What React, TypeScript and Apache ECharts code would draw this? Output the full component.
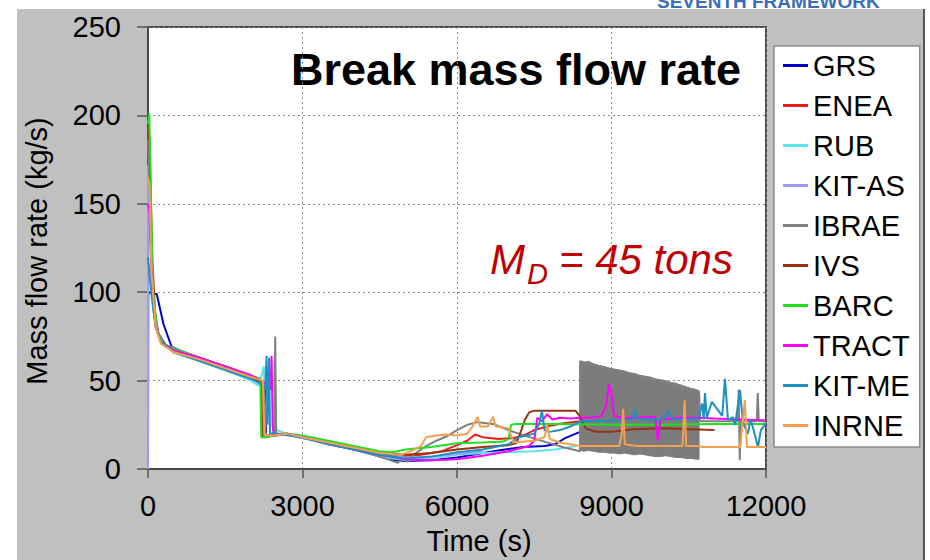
import React, { useEffect, useRef } from 'react';
import * as echarts from 'echarts';

const FONT = 'Arial, "Liberation Sans", Helvetica, sans-serif';

const seriesNames = ['GRS', 'ENEA', 'RUB', 'KIT-AS', 'IBRAE', 'IVS', 'BARC', 'TRACT', 'KIT-ME', 'INRNE'];
const seriesColors = ['#0000cc', '#ee1c1c', '#5fe3ef', '#9a9aff', '#808080', '#993311', '#22dd22', '#ff00ff', '#1f8fc0', '#f4a04e'];

const xTicks = { min: 0, max: 12000, step: 3000 };
const yTicks = { min: 0, max: 250, step: 50 };

const grs = [[0,0],[5,100],[170,99],[300,82],[460,69],[800,65],[1200,61],[1600,57],[2000,52],[2200,49],[2270,47],[2290,19],[2450,19],[2700,19.5],[3000,17.5],[3500,14.5],[4000,11],[4500,7],[4800,5],[5000,4.5],[5500,5],[6000,6.5],[6300,8],[6800,10.5],[7300,12.5],[7700,13],[7900,14],[8100,17.5],[8390,21]];
const enea = [[0,192],[40,150],[100,95],[200,76],[350,69],[700,66],[1200,61],[1700,56],[2100,51],[2230,49],[2250,18],[2450,19],[2700,20],[3000,18],[3500,15],[4000,12],[4500,8.5],[4900,7],[5300,8],[5700,10],[6000,13.5],[6200,16],[6350,19.5],[6500,18],[6800,17],[7100,17.5],[7300,19],[7500,22],[7800,24.5],[8100,26],[8400,27]];
const rub = [[0,162],[50,120],[120,86],[250,72],[500,66],[1000,61],[1500,56],[2000,50],[2150,47],[2250,58],[2270,20],[2350,19],[2500,22],[2700,20],[3000,17.5],[3500,14],[4000,11],[4500,7],[5000,5],[5500,6],[6000,8],[6500,9],[7000,9.5],[7500,10],[7900,11],[8300,13]];
const kitAs = [[0,0],[0,172],[40,140],[100,90],[200,76],[350,70],[700,66],[1200,61],[1700,56],[2100,51],[2250,49],[2270,19],[2500,20],[3000,18],[3500,14.5],[4000,11.5],[4500,8],[5000,6.5],[5500,7],[6000,8.5],[6500,10]];
const ibrae = [[0,186],[40,150],[100,95],[200,77],[350,70],[700,66],[1200,61],[1700,56],[2100,51],[2250,49],[2270,19],[2450,19],[2470,75],[2490,20],[2700,20],[3000,18],[3500,14.5],[4000,11],[4400,8],[4700,5],[4850,3.5],[4950,6],[5050,4],[5150,8],[5400,13],[5600,16],[5800,18.5],[6000,22],[6200,25],[6400,26.5],[6700,25.5],[7000,22],[7300,19],[7700,15.5],[8100,12],[8390,10],[8390,61],[10700,44],[10720,27],[11450,27],[11470,45],[11490,5],[11510,27],[11820,27],[11840,43],[11860,27],[12000,27]];
// IBRAE oscillation band: [time, lower envelope, upper envelope]
const ibraeBand = [[8390,11,61],[8450,10,60],[8550,10.5,61],[8650,10,59.5],[8750,9.5,58.5],[8850,9.5,58],[8950,9,57],[9050,9,56.5],[9150,8.5,56],[9250,9,55.5],[9350,8.5,54.5],[9450,8,54],[9550,8.5,53],[9650,8,52.5],[9750,7.5,52],[9850,7,51],[9950,7,50.5],[10050,7.5,50],[10150,7,49],[10250,6.5,48.5],[10350,6.5,47.5],[10450,6,46.5],[10550,6,45.5],[10650,5.5,45],[10700,5.5,44]];
const ivs = [[0,200],[30,186],[80,120],[150,82],[250,72],[500,66],[1000,62],[1500,57],[2000,52],[2200,49],[2220,18],[2450,19],[2700,20],[3000,18],[3500,14.5],[4000,11.5],[4200,10],[4500,9],[5000,8],[5500,9],[6000,11],[6500,12.5],[7000,13.5],[7150,14.5],[7250,22],[7320,28],[7400,32],[7500,33],[8000,33],[8300,33],[8380,30],[8500,23],[8700,21],[9000,21],[9400,22.5],[10000,23],[10500,22.5],[11000,22]];
const barc = [[0,195],[25,201],[60,150],[100,100],[180,78],[300,70],[600,67],[1000,63],[1500,58],[2000,53],[2180,51],[2200,18],[2300,18],[2450,19],[2700,20],[3000,19],[3500,16],[4000,13],[4500,10],[4750,9.5],[5000,11],[5500,12.5],[6000,14.5],[6500,15],[6900,15.5],[7000,17],[7050,25],[7150,25.5],[8000,25.5],[9000,25],[10000,25],[11000,25.5],[12000,25.5]];
const tract = [[0,150],[30,145],[80,100],[150,80],[250,72],[500,67],[1000,63],[1500,58],[2000,53],[2200,50],[2300,48],[2380,45],[2400,64],[2420,25],[2440,19],[2700,20],[3000,18],[3500,14],[4000,11],[4500,8],[5000,5.5],[5500,5],[6000,5.5],[6500,7.5],[7000,10],[7400,13],[7500,16],[7560,29],[7650,27],[7750,31],[7850,28],[8000,29],[8200,28.5],[8400,29],[8600,29],[8800,30],[8900,36],[8950,48],[9000,42],[9050,30],[9200,29],[9500,29],[9850,29.5],[9900,16],[9950,28],[10300,29],[10700,29],[11000,28.5],[11500,28],[12000,27.5]];
const kitMe = [[0,120],[60,100],[150,80],[250,72],[500,66],[1000,61],[1500,56],[2000,51],[2200,48],[2280,45],[2300,64],[2320,25],[2350,63],[2370,20],[2500,20],[3000,18],[3500,14],[4000,11],[4500,8],[5000,6],[5500,7],[6000,9.5],[6500,11],[7000,14],[7200,18],[7500,20],[7600,26],[7650,33],[7700,22],[7800,21],[8000,22],[8200,24],[8400,27],[9000,27.5],[9400,28],[9450,34],[9500,28],[10000,28],[10100,33],[10200,28],[10600,28],[10700,30],[10760,37],[10790,28],[10815,43],[10850,29],[10950,38],[11050,34],[11150,30],[11203,51],[11262,27.7],[11359,29.4],[11400,25],[11495,44.6],[11553,26],[11650,20],[11700,28],[11760,22],[11844,12.4],[11900,22],[12000,26]];
const inrne = [[0,165],[30,160],[70,110],[150,80],[250,71],[500,66],[1000,62],[1500,57],[2000,52],[2230,50],[2260,19],[2450,19],[2700,20],[3000,18],[3500,15],[4000,12],[4500,9],[4900,8],[5100,10],[5300,13],[5400,18],[5600,19],[5800,19.5],[6000,19],[6200,20],[6300,24],[6400,29.5],[6450,24],[6600,24],[6700,29.5],[6750,24],[7000,23],[7100,15],[7500,16],[7700,18],[7750,25],[7800,17],[8000,15],[8200,14],[8400,13],[9150,13],[9200,20],[9225,34],[9260,14],[9500,13],[10000,13],[10380,13],[10420,39],[10450,13],[10700,13],[10750,12.5],[11500,12.5],[11590,39],[11630,12.5],[12000,12.5]];

const seriesData = [grs, enea, rub, kitAs, ibrae, ivs, barc, tract, kitMe, inrne];

export default function App() {
  const ref = useRef<HTMLDivElement>(null);
  useEffect(() => {
    if (!ref.current) return;
    const chart = echarts.init(ref.current, undefined, { renderer: 'svg' });
    const axisCommon = {
      axisLine: { show: true, lineStyle: { color: '#4a4a4a', width: 2 } },
      splitLine: { show: true, lineStyle: { color: '#8a8a8a', type: [2, 3], width: 1 } },
    };
    const option: any = {
      animation: false,
      textStyle: { fontFamily: FONT },
      grid: { left: 148, right: 164, top: 27, bottom: 91, show: true, backgroundColor: '#ffffff', borderColor: '#4a4a4a', borderWidth: 2 },
      xAxis: {
        type: 'value', min: xTicks.min, max: xTicks.max, interval: xTicks.step,
        ...axisCommon,
        axisTick: { show: true, length: 9, lineStyle: { color: '#555', width: 1.5 } },
        axisLabel: { color: '#000', fontSize: 29, margin: 22, fontFamily: FONT, formatter: (v: number) => String(v) },
      },
      yAxis: {
        type: 'value', min: yTicks.min, max: yTicks.max, interval: yTicks.step,
        ...axisCommon,
        axisTick: { show: true, length: 11, lineStyle: { color: '#555', width: 1.5 } },
        axisLabel: { color: '#000', fontSize: 29, margin: 27, fontFamily: FONT, formatter: (v: number) => String(v) },
      },
      legend: {
        data: seriesNames, orient: 'vertical', left: 774, top: 46,
        padding: [5, 10, 7, 9], itemGap: 11, itemWidth: 25, itemHeight: 3, icon: 'rect',
        backgroundColor: '#fff', borderColor: '#8c8c8c', borderWidth: 1.5,
        selectedMode: false,
        textStyle: { color: '#000', fontSize: 29, fontFamily: FONT, lineHeight: 29 },
      },
      graphic: [
        { type: 'text', x: 657, y: 1, style: { text: 'SEVENTH FRAMEWORK', font: `bold 19px ${FONT}`, fill: '#3a6fb7', align: 'left', verticalAlign: 'middle' } },
        { type: 'text', x: 516, y: 69, style: { text: 'Break mass flow rate', font: `bold 45px ${FONT}`, fill: '#000', align: 'center', verticalAlign: 'middle' } },
        { type: 'text', x: 490, y: 259, style: { text: 'M', font: `italic 42px ${FONT}`, fill: '#c00000', align: 'left', verticalAlign: 'middle' } },
        { type: 'text', x: 527, y: 274, style: { text: 'D', font: `italic 29px ${FONT}`, fill: '#c00000', align: 'left', verticalAlign: 'middle' } },
        { type: 'text', x: 559, y: 259, style: { text: '= 45 tons', font: `italic 42px ${FONT}`, fill: '#c00000', align: 'left', verticalAlign: 'middle' } },
        { type: 'text', x: 37, y: 251, rotation: Math.PI / 2, style: { text: 'Mass flow rate (kg/s)', font: `29px ${FONT}`, fill: '#000', align: 'center', verticalAlign: 'middle' } },
        { type: 'text', x: 479, y: 541, style: { text: 'Time (s)', font: `29px ${FONT}`, fill: '#000', align: 'center', verticalAlign: 'middle' } },
      ],
      series: [
        {
          name: 'IBRAE band', type: 'custom', silent: true, clip: true, z: 2,
          data: ibraeBand,
          encode: { x: 0, y: [1, 2] },
          renderItem: (params: any, api: any) => {
            if (params.dataIndex !== 0) return null;
            const lower = ibraeBand.map((r) => api.coord([r[0], r[1]]));
            const upper = ibraeBand.map((r) => api.coord([r[0], r[2]])).reverse();
            return { type: 'polygon', shape: { points: lower.concat(upper) }, style: { fill: '#7c7c7c', stroke: '#7c7c7c', lineWidth: 1 } };
          },
        },
        ...seriesNames.map((name, i) => ({
          name, type: 'line', data: seriesData[i], showSymbol: false, symbol: 'none', clip: true, silent: true, z: 3,
          lineStyle: { width: 2, color: seriesColors[i] }, itemStyle: { color: seriesColors[i] },
        })),
      ],
    };
    chart.setOption(option);
    return () => chart.dispose();
  }, []);
  return (
    <div style={{ position: 'fixed', left: 0, top: 0, width: 930, height: 560, background: '#ffffff', overflow: 'hidden' }}>
      <div style={{ position: 'absolute', left: 17, top: 9, width: 906, height: 551, background: '#c0c0c0', borderRight: '2px solid #555' }} />
      <div ref={ref} style={{ position: 'absolute', left: 0, top: 0, width: 930, height: 560 }} />
    </div>
  );
}
